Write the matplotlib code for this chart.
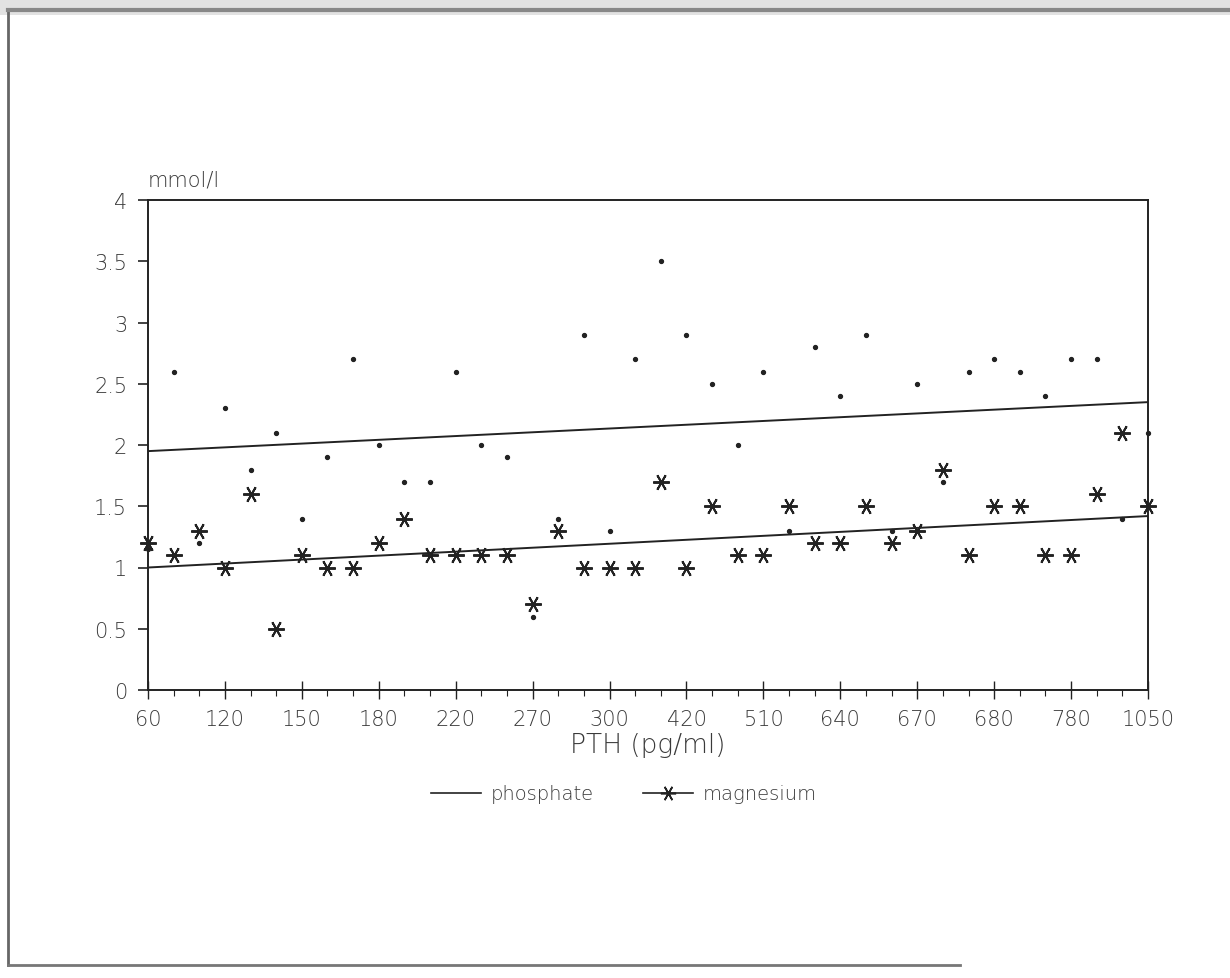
import numpy as np
import matplotlib
matplotlib.use("Agg")
import matplotlib.pyplot as plt
from matplotlib.lines import Line2D
from matplotlib.patches import Rectangle

# PTH categories (one tick each), only every third one is labelled
pth_labels = ["60", "120", "150", "180", "220", "270", "300",
              "420", "510", "640", "670", "680", "780", "1050"]
n_cat = 40

# values (mmol/l)
phosphate = [1.15, 2.6, 1.2, 2.3, 1.8, 2.1, 1.4, 1.9, 2.7, 2.0,
             1.7, 1.7, 2.6, 2.0, 1.9, 0.6, 1.4, 2.9, 1.3, 2.7,
             3.5, 2.9, 2.5, 2.0, 2.6, 1.3, 2.8, 2.4, 2.9, 1.3,
             2.5, 1.7, 2.6, 2.7, 2.6, 2.4, 2.7, 2.7, 1.4, 2.1]
magnesium = [1.2, 1.1, 1.3, 1.0, 1.6, 0.5, 1.1, 1.0, 1.0, 1.2,
             1.4, 1.1, 1.1, 1.1, 1.1, 0.7, 1.3, 1.0, 1.0, 1.0,
             1.7, 1.0, 1.5, 1.1, 1.1, 1.5, 1.2, 1.2, 1.5, 1.2,
             1.3, 1.8, 1.1, 1.5, 1.5, 1.1, 1.1, 1.6, 2.1, 1.5]

# trend lines (start / end value as drawn)
phos_trend = [1.95, 2.35]
mg_trend = [1.0, 1.42]

ink = "#222222"
txt = "#3a3a3a"
ast = (6, 2, 90)

fig = plt.figure(figsize=(12.3, 9.79), dpi=100)
ax = fig.add_axes([148/1230, 1-691/979, 1000/1230, 490/979])

x = np.arange(n_cat)
ax.plot(x, phosphate, linestyle="none", marker="o", ms=2.8, color=ink, clip_on=False)
ax.plot(x, magnesium, linestyle="none", marker=ast, ms=12, mew=1.4, color=ink, clip_on=False)
ax.plot([0, n_cat-1], phos_trend, color=ink, lw=1.4)
ax.plot([0, n_cat-1], mg_trend, color=ink, lw=1.4)

ax.set_xlim(0, n_cat-1)
ax.set_ylim(0, 4)
ax.set_yticks(np.arange(0, 4.01, 0.5))
ax.set_yticklabels(["0", "0.5", "1", "1.5", "2", "2.5", "3", "3.5", "4"])
ax.set_xticks(np.arange(0, n_cat, 3))
ax.set_xticklabels(pth_labels)
ax.set_xticks(x, minor=True)

for s in ax.spines.values():
    s.set_color(ink)
    s.set_linewidth(1.4)

ax.tick_params(axis="y", direction="out", length=7, width=1.2, pad=8,
               labelsize=15, labelcolor=txt, color=ink)
ax.tick_params(axis="x", which="major", direction="inout", length=13, width=1.0,
               pad=7, labelsize=15, labelcolor=txt, color=ink)
ax.tick_params(axis="x", which="minor", direction="out", length=4, width=0.8, color=ink)
for lab in ax.get_xticklabels() + ax.get_yticklabels():
    lab.set_fontweight("light")

fig.text(148/1230, 1-180/979, "mmol/l", fontsize=15, color=txt, va="center",
         ha="left", fontweight="light")
ax.set_xlabel("PTH (pg/ml)", fontsize=19, color=txt, labelpad=2, fontweight="light")

handles = [Line2D([], [], color=ink, lw=1.2),
           Line2D([], [], color=ink, lw=1.2, marker=ast, ms=11, mew=1.2)]
leg = fig.legend(handles, ["phosphate", "magnesium"], loc="center",
                 bbox_to_anchor=(624/1230, 1-795/979), ncol=2, frameon=False,
                 fontsize=14, labelcolor=txt, handlelength=2.6, columnspacing=2.5,
                 handletextpad=0.5)
for t in leg.get_texts():
    t.set_fontweight("light")

# border / shadow of the scanned page
fig.add_artist(Rectangle((0, 1-16/979), 1, 16/979, transform=fig.transFigure,
                         color="#e2e2e2", lw=0))
fig.add_artist(Line2D([8/1230, 8/1230], [1-12/979, 1-966/979], color="#666666", lw=2))
fig.add_artist(Line2D([8/1230, 1.0], [1-11/979, 1-11/979], color="#888888", lw=3))
fig.add_artist(Line2D([8/1230, 960/1230], [1-966/979, 1-966/979], color="#777777", lw=2))

fig.savefig("out.png", dpi=100, facecolor="white")
